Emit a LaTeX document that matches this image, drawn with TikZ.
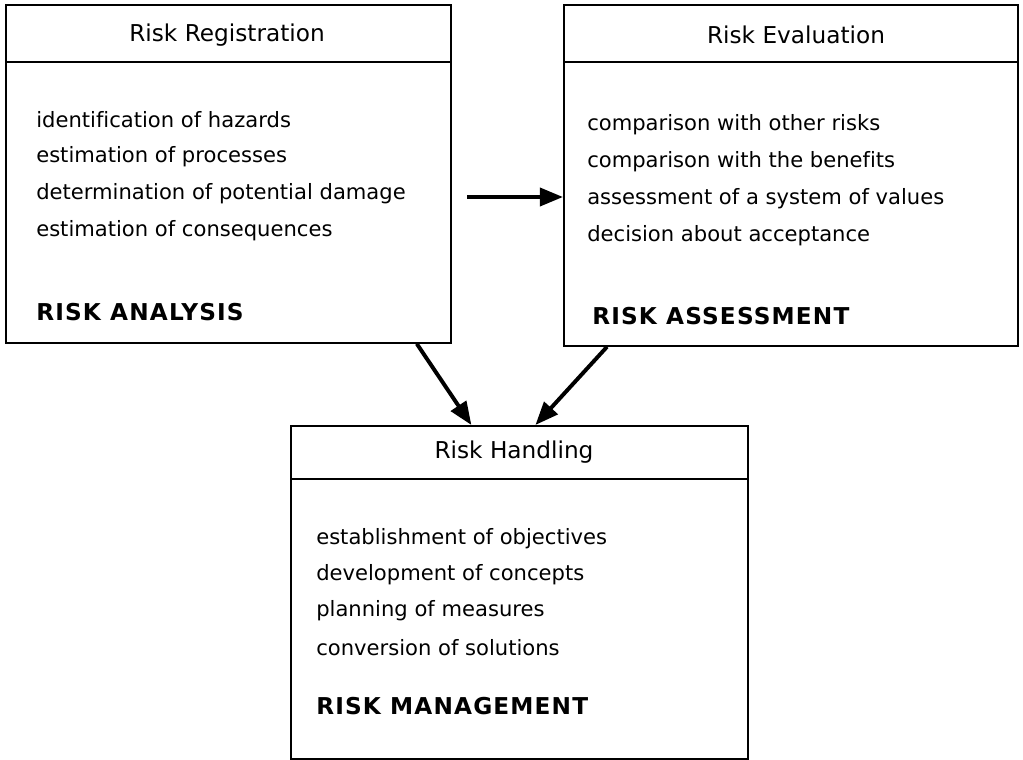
\documentclass[tikz,border=0pt]{standalone}
\usepackage{fontspec}
\setmainfont{DejaVu Sans}[Ligatures=NoCommon]
\usetikzlibrary{arrows.meta}

\tikzset{
  box/.style={draw, line width=1.2pt, rectangle, anchor=north west, inner sep=0pt},
  hdr/.style={inner sep=0pt, font=\fontsize{16.5}{18}\selectfont},
  item/.style={anchor=west, inner sep=0pt, font=\fontsize{15}{17}\selectfont},
  key/.style={anchor=west, inner sep=0pt, font=\fontsize{16.5}{18}\selectfont\bfseries\addfontfeatures{LetterSpace=5}},
  arr/.style={-{Triangle[length=0.58cm, width=0.45cm]}, line width=2.8pt}
}

\begin{document}
\begin{tikzpicture}[x=0.025cm, y=-0.025cm]
        % Frame
        \useasboundingbox (0,0) rectangle (1023,760);

        % Boxes
        \node[box, minimum width=11.125cm, minimum height=8.45cm] (analysis) at (5,4) {};
        \node[box, minimum width=11.35cm, minimum height=8.525cm] (assessment) at (563,4) {};
        \node[box, minimum width=11.425cm, minimum height=8.325cm] (management) at (290,425) {};

        % Header lines
        \draw[line width=1.2pt] ([yshift=-1.45cm]analysis.north west) -- ([yshift=-1.45cm]analysis.north east);
        \draw[line width=1.2pt] ([yshift=-1.45cm]assessment.north west) -- ([yshift=-1.45cm]assessment.north east);
        \draw[line width=1.2pt] ([yshift=-1.35cm]management.north west) -- ([yshift=-1.35cm]management.north east);

        % Headers
        \node[hdr] (registration) at (227,35) {Risk Registration};
        \node[hdr] (evaluation) at (796,35) {Risk Evaluation};
        \node[hdr] (handling) at (514,452) {Risk Handling};

        % Risk analysis
        \node[item] (a1) at (36,120) {identification of hazards};
        \node[item] (a2) at (36,157) {estimation of processes};
        \node[item] (a3) at (36,194) {determination of potential damage};
        \node[item] (a4) at (36,231) {estimation of consequences};
        \node[key] (analysislabel) at (36,312) {RISK ANALYSIS};

        % Risk assessment
        \node[item] (b1) at (587,125) {comparison with other risks};
        \node[item] (b2) at (587,162) {comparison with the benefits};
        \node[item] (b3) at (587,199) {assessment of a system of values};
        \node[item] (b4) at (587,236) {decision about acceptance};
        \node[key] (assessmentlabel) at (592,316) {RISK ASSESSMENT};

        % Risk management
        \node[item] (c1) at (316,539) {establishment of objectives};
        \node[item] (c2) at (316,575) {development of concepts};
        \node[item] (c3) at (316,611) {planning of measures};
        \node[item] (c4) at (316,648) {conversion of solutions};
        \node[key] (managementlabel) at (316,706) {RISK MANAGEMENT};

        % Arrows
        \coordinate (start) at (467,197);
        \draw[arr] (start) -- (start -| assessment.west);
        \draw[arr] ([xshift=-0.875cm]analysis.south east) -- ([xshift=-1.2cm]management.north);
        \draw[arr] ([xshift=1.1cm]assessment.south west) -- ([xshift=0.4cm]management.north);

\end{tikzpicture}
\end{document}
